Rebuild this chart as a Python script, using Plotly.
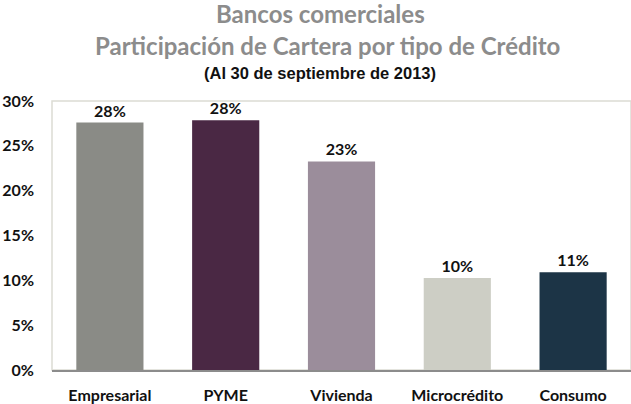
import plotly.graph_objects as go

categories = ["Empresarial", "PYME", "Vivienda", "Microcrédito", "Consumo"]
values = [0.276, 0.2786, 0.2326, 0.1026, 0.109]
colors = ["#8a8b86", "#4a2844", "#9b8d9b", "#cdcec5", "#1c3446"]
y_ticks = [0, 0.05, 0.10, 0.15, 0.20, 0.25, 0.30]
y_tick_labels = ["0%", "5%", "10%", "15%", "20%", "25%", "30%"]

title_font = "Lato, Open Sans, sans-serif"

fig = go.Figure(go.Bar(
    x=categories, y=values,
    marker=dict(color=colors, line=dict(width=0)),
    texttemplate="%{y:.0%}", textposition="outside",
    textfont=dict(family=title_font, size=16, color="#111111", weight="bold"),
    cliponaxis=False,
))

title_x = 0.472  # title block is centred a little left of the plot-area centre

fig.update_layout(
    width=631, height=404,
    margin=dict(l=52, r=0, t=101, b=34),
    paper_bgcolor="white", plot_bgcolor="white",
    bargap=0.42, showlegend=False,
    font=dict(family=title_font),
    shapes=[dict(type="rect", xref="paper", yref="paper", x0=0, x1=1, y0=0, y1=1,
                 line=dict(color="#dcdcd4", width=1.5), layer="below")],
    annotations=[
        dict(text="<b>Bancos comerciales</b>", xref="paper", yref="paper",
             x=title_x, xanchor="center", y=1, yanchor="middle", yshift=88, xshift=-5,
             showarrow=False, font=dict(family=title_font, size=24, color="#8c8c8c")),
        dict(text="<b>Participación de Cartera por tipo de Crédito</b>", xref="paper", yref="paper",
             x=title_x, xanchor="center", y=1, yanchor="middle", yshift=56, xshift=2,
             showarrow=False, font=dict(family=title_font, size=24, color="#8c8c8c")),
        dict(text="<b>(Al 30 de septiembre de 2013)</b>", xref="paper", yref="paper",
             x=title_x, xanchor="center", y=1, yanchor="middle", yshift=28, xshift=-5,
             showarrow=False, font=dict(family="Liberation Sans, Arial", size=16.5, color="#111111")),
    ],
)

fig.update_xaxes(
    showline=True, linecolor="#8c8c8c", linewidth=2,
    showgrid=False, ticks="", ticklabelstandoff=10,
    tickfont=dict(family=title_font, size=16, color="#111111", weight="bold"),
)
fig.update_yaxes(
    range=[0, 0.30], tickvals=y_ticks, ticktext=y_tick_labels,
    showgrid=False, zeroline=False, showline=False, ticks="",
    ticklabelstandoff=17,
    tickfont=dict(family=title_font, size=16, color="#111111", weight="bold"),
)

fig.write_html("out.html", config={"displayModeBar": False},
               post_script="document.body.style.margin='0';")
